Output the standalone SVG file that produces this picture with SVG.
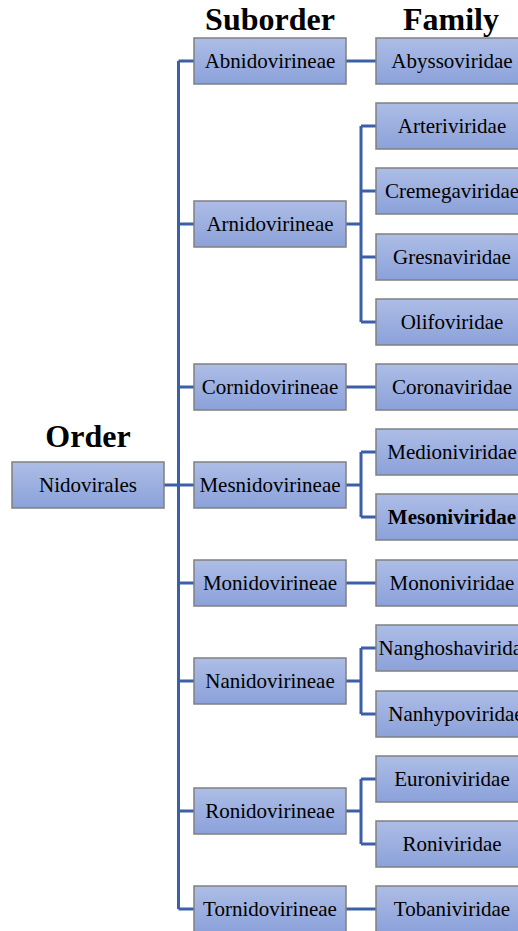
<svg xmlns="http://www.w3.org/2000/svg" width="518" height="931" viewBox="0 0 518 931">
<defs>
<linearGradient id="g" x1="0" y1="0" x2="0" y2="1">
<stop offset="0" stop-color="#adbde6"/>
<stop offset="1" stop-color="#8ba1d9"/>
</linearGradient>
<style>
.box rect{fill:url(#g);stroke:#808080;stroke-width:1.5}
.box text{font-family:"Liberation Serif","Times New Roman",serif;font-size:21px;fill:#000;text-anchor:middle}
.hdr{font-family:"Liberation Serif","Times New Roman",serif;font-size:32px;font-weight:bold;fill:#000;text-anchor:middle}
.conn path{fill:none;stroke:#3d5fa8;stroke-width:3}
</style>
</defs>
<rect width="518" height="931" fill="#fff"/>
<text class="hdr" x="88" y="447">Order</text>
<text class="hdr" x="270" y="30">Suborder</text>
<text class="hdr" x="451" y="30">Family</text>
<g class="conn" id="connectors">
<path d="M164 485H194"/>
<path d="M178.5 61V909"/>
<path d="M178.5 61H194M178.5 224H194M178.5 387H194M178.5 583H194M178.5 681H194M178.5 811H194M178.5 909H194"/>
<path d="M346 61H376"/>
<path d="M346 224H361M361 126H376M361 191H376M361 257H376M361 322H376M361 126V322"/>
<path d="M346 387H376"/>
<path d="M346 485H361M361 452H376M361 517H376M361 452V517"/>
<path d="M346 583H376"/>
<path d="M346 681H361M361 648H376M361 714H376M361 648V714"/>
<path d="M346 811H361M361 779H376M361 844H376M361 779V844"/>
<path d="M346 909H376"/>
</g>
<g class="box" id="nidovirales"><rect x="12" y="462" width="152" height="46"/><text x="88" y="492">Nidovirales</text></g>
<g class="box" id="abnidovirineae"><rect x="194" y="38" width="152" height="46"/><text x="270" y="68">Abnidovirineae</text></g>
<g class="box" id="arnidovirineae"><rect x="194" y="201" width="152" height="46"/><text x="270" y="231">Arnidovirineae</text></g>
<g class="box" id="cornidovirineae"><rect x="194" y="364" width="152" height="46"/><text x="270" y="394">Cornidovirineae</text></g>
<g class="box" id="mesnidovirineae"><rect x="194" y="462" width="152" height="46"/><text x="270" y="492">Mesnidovirineae</text></g>
<g class="box" id="monidovirineae"><rect x="194" y="560" width="152" height="46"/><text x="270" y="590">Monidovirineae</text></g>
<g class="box" id="nanidovirineae"><rect x="194" y="658" width="152" height="46"/><text x="270" y="688">Nanidovirineae</text></g>
<g class="box" id="ronidovirineae"><rect x="194" y="788" width="152" height="46"/><text x="270" y="818">Ronidovirineae</text></g>
<g class="box" id="tornidovirineae"><rect x="194" y="886" width="152" height="46"/><text x="270" y="916">Tornidovirineae</text></g>
<g class="box" id="abyssoviridae"><rect x="376" y="38" width="152" height="46"/><text x="452" y="68">Abyssoviridae</text></g>
<g class="box" id="arteriviridae"><rect x="376" y="103" width="152" height="46"/><text x="452" y="133">Arteriviridae</text></g>
<g class="box" id="cremegaviridae"><rect x="376" y="168" width="152" height="46"/><text x="452" y="198">Cremegaviridae</text></g>
<g class="box" id="gresnaviridae"><rect x="376" y="234" width="152" height="46"/><text x="452" y="264">Gresnaviridae</text></g>
<g class="box" id="olifoviridae"><rect x="376" y="299" width="152" height="46"/><text x="452" y="329">Olifoviridae</text></g>
<g class="box" id="coronaviridae"><rect x="376" y="364" width="152" height="46"/><text x="452" y="394">Coronaviridae</text></g>
<g class="box" id="medioniviridae"><rect x="376" y="429" width="152" height="46"/><text x="452" y="459">Medioniviridae</text></g>
<g class="box" id="mesoniviridae"><rect x="376" y="494" width="152" height="46"/><text x="452" y="524" font-weight="bold">Mesoniviridae</text></g>
<g class="box" id="mononiviridae"><rect x="376" y="560" width="152" height="46"/><text x="452" y="590">Mononiviridae</text></g>
<g class="box" id="nanghoshaviridae"><rect x="376" y="625" width="152" height="46"/><text x="455" y="655">Nanghoshaviridae</text></g>
<g class="box" id="nanhypoviridae"><rect x="376" y="691" width="152" height="46"/><text x="456" y="721">Nanhypoviridae</text></g>
<g class="box" id="euroniviridae"><rect x="376" y="756" width="152" height="46"/><text x="452" y="786">Euroniviridae</text></g>
<g class="box" id="roniviridae"><rect x="376" y="821" width="152" height="46"/><text x="452" y="851">Roniviridae</text></g>
<g class="box" id="tobaniviridae"><rect x="376" y="886" width="152" height="46"/><text x="452" y="916">Tobaniviridae</text></g>
</svg>
